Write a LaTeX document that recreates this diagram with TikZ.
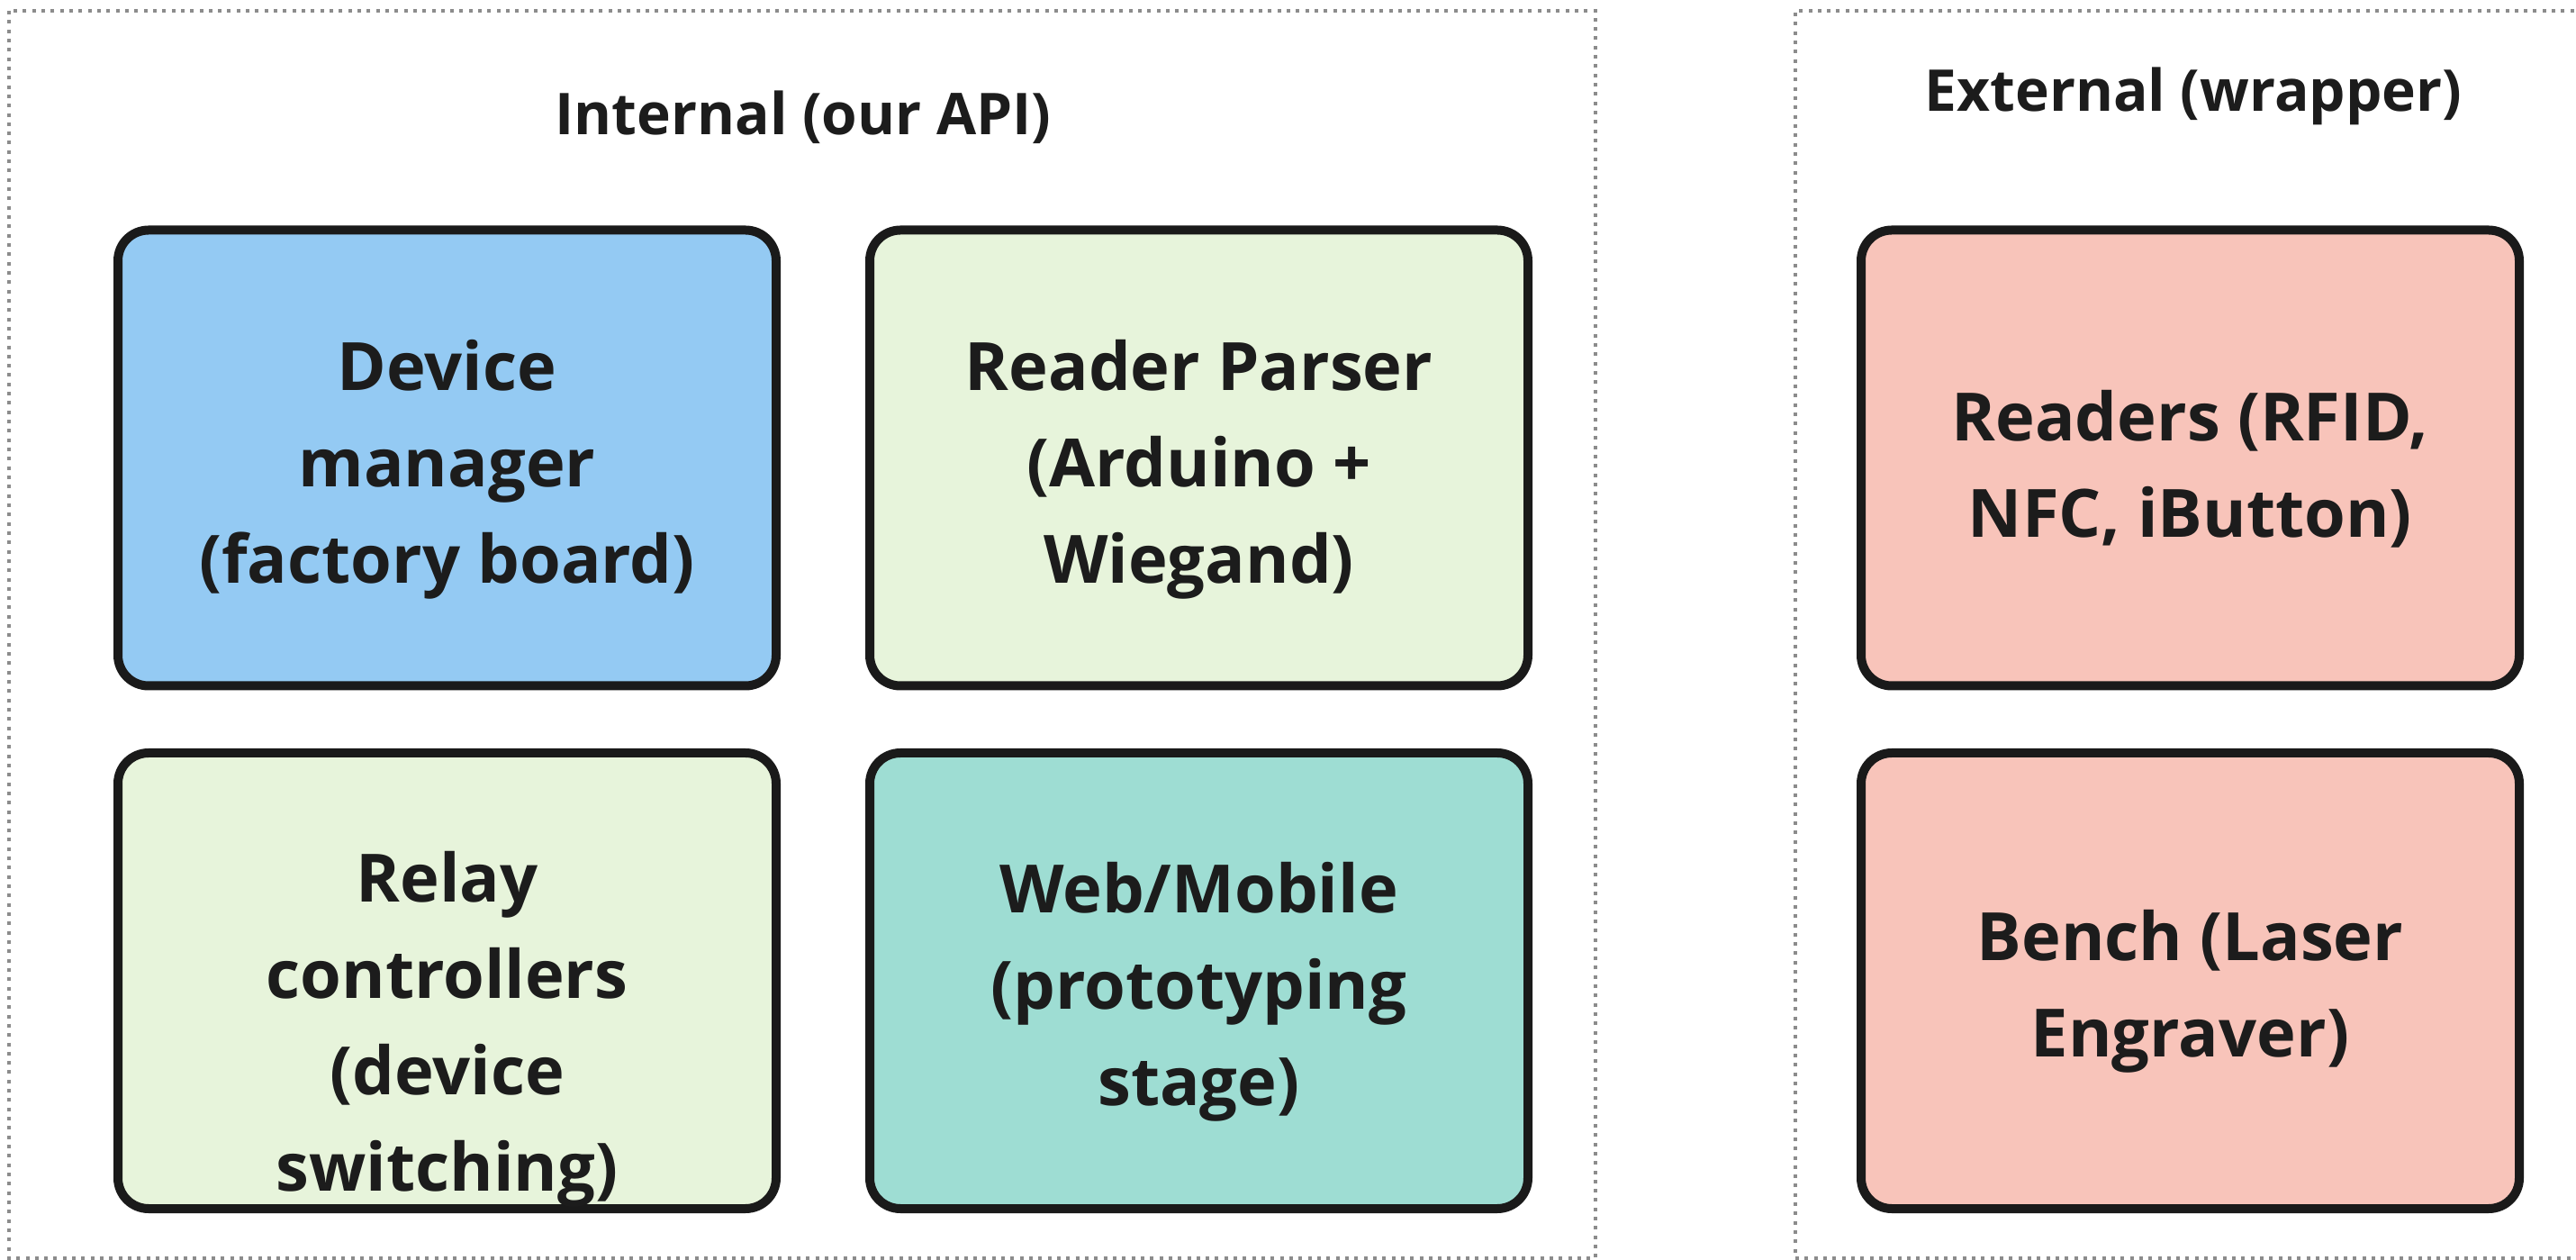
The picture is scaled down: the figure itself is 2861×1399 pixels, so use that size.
\documentclass[tikz,border=0pt]{standalone}
\usepackage{fontspec}
\setmainfont{Open Sans}
\begin{document}
\begin{tikzpicture}[x=0.25pt, y=-0.25pt,
  frame/.style={draw=framegray, line width=1pt, dash pattern=on 1pt off 1.58pt},
  title/.style={font=\fontsize{16pt}{19pt}\selectfont\bfseries, text=ink, inner sep=0pt},
  card/.style={draw=edge, line width=2.5pt, rounded corners=8.5pt,
    minimum width=182.75pt, minimum height=126.5pt, inner sep=0pt},
  cardtext/.style={align=center, text=ink, inner sep=0pt,
    font=\fontsize{18.5pt}{26.75pt}\selectfont\bfseries}]
\definecolor{ink}{HTML}{1C1C1C}
\definecolor{edge}{HTML}{1A1A1A}
\definecolor{framegray}{HTML}{8C8C8C}
\definecolor{cblue}{HTML}{94CAF3}
\definecolor{cgreen}{HTML}{E7F4DB}
\definecolor{cteal}{HTML}{9EDDD3}
\definecolor{cpink}{HTML}{F8C4BA}

\useasboundingbox (0,0) rectangle (2861,1399);
\clip (0,0) rectangle (2861,1399);
\fill[white] (0,0) rectangle (2861,1399);

% group frames
\draw[frame] (10,12) rectangle (1772,1397);
\draw[frame] (2900,12) -- (1994,12) -- (1994,1397) -- (2900,1397);

% group titles
\node[title] (tint) at (892,130) {Internal (our API)};
\node[title] (text) at (2436,107) {External (wrapper)};

% internal components
\node[card, fill=cblue]  (dev)   at (496.5,508.5)  {};
\node[card, fill=cgreen] (rp)    at (1331.5,508.5) {};
\node[card, fill=cgreen] (relay) at (496.5,1089)   {};
\node[card, fill=cteal]  (web)   at (1331.5,1089)  {};
\node[cardtext] (devt)   at (496.5,521)  {Device\\manager\\(factory board)};
\node[cardtext] (rpt)    at (1331.5,521) {Reader Parser\\(Arduino +\\Wiegand)};
\node[cardtext] (relayt) at (496.5,1143) {Relay\\controllers\\(device\\switching)};
\node[cardtext] (webt)   at (1331.5,1101) {Web/Mobile\\(prototyping\\stage)};

% external components
\node[card, fill=cpink] (rd) at (2432.5,508.5) {};
\node[card, fill=cpink] (bn) at (2432.5,1089)  {};
\node[cardtext] (rdt) at (2432.5,521)  {Readers (RFID,\\NFC, iButton)};
\node[cardtext] (bnt) at (2432.5,1101) {Bench (Laser\\Engraver)};
\end{tikzpicture}
\end{document}
